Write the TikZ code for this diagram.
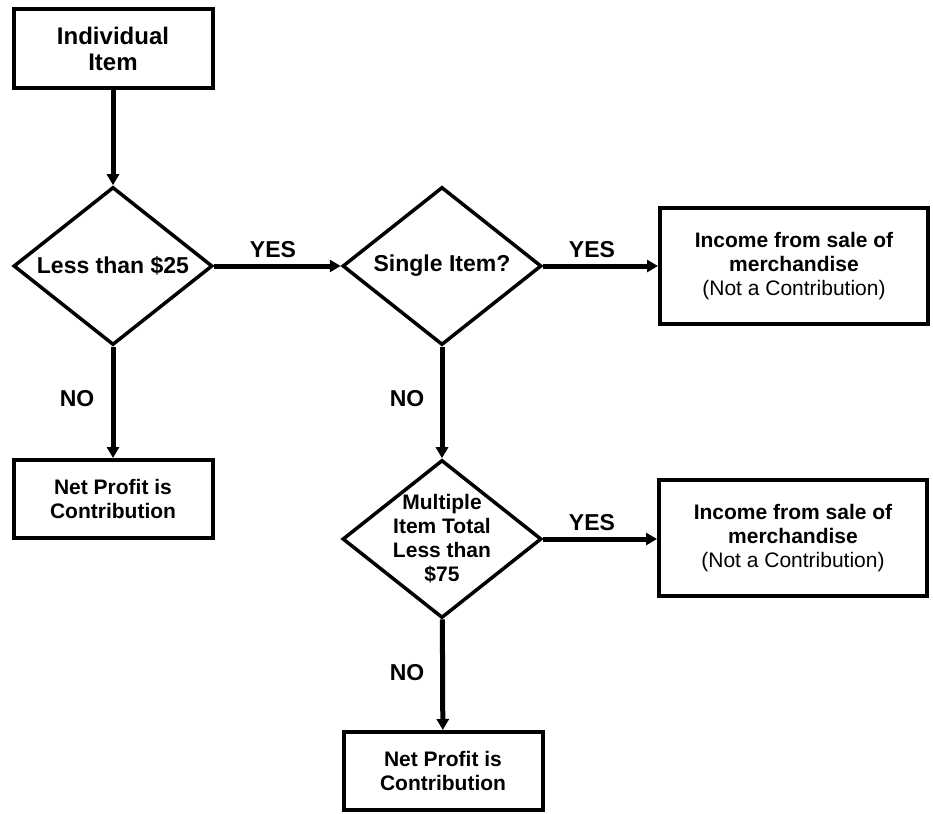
\documentclass[tikz,border=0pt]{standalone}
\usepackage{fontspec}
\setmainfont{Liberation Sans}
\usetikzlibrary{shapes.geometric,arrows.meta}
\begin{document}
\begin{tikzpicture}[x=1pt, y=-1pt, font=\bfseries\fontsize{21}{24}\selectfont,
      >={Triangle[length=11pt,width=12pt]},
      box/.style={draw, line width=4pt, align=center, minimum width=199pt, minimum height=78pt, inner sep=0pt},
      outcome/.style={box, minimum width=268pt, minimum height=116pt},
      decide/.style={draw, diamond, line width=3.5pt, aspect=1.25, minimum width=199pt, minimum height=158pt, inner sep=-8pt, align=center, font=\bfseries\fontsize{23}{25}\selectfont},
      flow/.style={->, line width=5pt},
      answer/.style={inner sep=0pt, font=\bfseries\fontsize{23}{25}\selectfont}]
    \useasboundingbox (0,0) rectangle (933,813);
    \node[box, minimum height=79pt, font=\bfseries\fontsize{24}{26}\selectfont] (item) at (113,49) {Individual\\Item};
    \node[decide]  (low)    at (113,266) {Less than \$25};
    \node[decide]  (single) at (442,266) {Single Item?};
    \node[outcome] (sale)   at (794,266) {Income from sale of\\merchandise\\{\mdseries (Not a Contribution)}};
    \node[box]     (gift)   at (113,499) {Net Profit is\\Contribution};
    \node[decide, font=\bfseries\fontsize{21}{24}\selectfont] (multi) at (442,539) {Multiple\\Item Total\\Less than\\\$75};
    \node[outcome] (sale2)  at (793,538) {Income from sale of\\merchandise\\{\mdseries (Not a Contribution)}};
    \node[box]     (gift2)  at (443,771) {Net Profit is\\Contribution};
    \node[answer]  (yes1) at (273,250) {YES};
    \node[answer]  (yes2) at (592,250) {YES};
    \node[answer]  (yes3) at (592,523) {YES};
    \node[answer]  (no1)  at (77,399)  {NO};
    \node[answer]  (no2)  at (407,399) {NO};
    \node[answer]  (no3)  at (407,673) {NO};
    \draw[flow] (item) -- (low);
    \draw[flow] (low.east) -- (single.west);
    \draw[flow] (single.east) -- (sale.west);
    \draw[flow] (low) -- (gift);
    \draw[flow] (single) -- (multi);
    \draw[flow] (multi.east) -- (multi.east -| sale2.west);
    \draw[flow] (multi) -- (gift2);
  \end{tikzpicture}
\end{document}
